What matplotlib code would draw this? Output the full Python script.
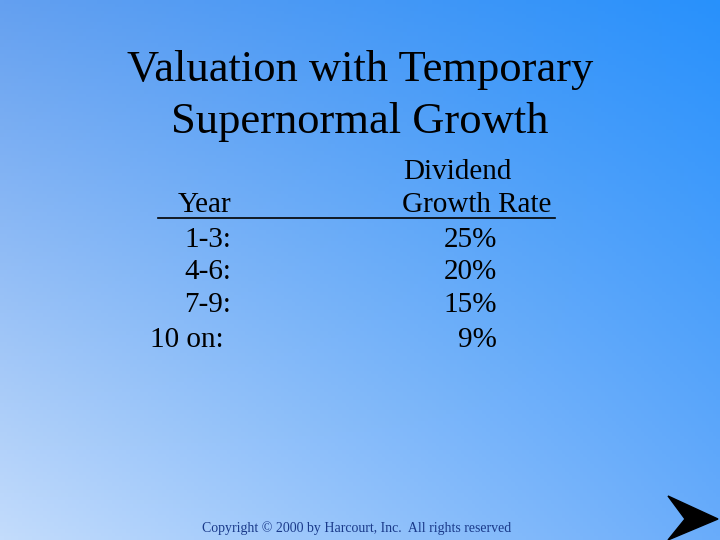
import numpy as np
import matplotlib.pyplot as plt
from matplotlib.patches import Polygon

title_lines = ["Valuation with Temporary", "Supernormal Growth"]
years = ["1-3:", "4-6:", "7-9:", "10 on:"]
rates = ["25%", "20%", "15%", "9%"]
copyright_text = "Copyright \u00a9 2000 by Harcourt, Inc.  All rights reserved"

W, H = 720, 540
fig = plt.figure(figsize=(7.2, 5.4), dpi=100)
ax = fig.add_axes([0, 0, 1, 1])
ax.set_xlim(0, W)
ax.set_ylim(H, 0)
ax.axis('off')

# diagonal gradient background (light bottom-left -> bright blue top-right)
tl = np.array([100, 160, 240]) / 255
tr = np.array([40, 145, 252]) / 255
bl = np.array([195, 220, 252]) / 255
br = np.array([105, 172, 250]) / 255
u = np.linspace(0, 1, 200)[None, :, None]
v = np.linspace(0, 1, 150)[:, None, None]
img = (1 - v) * ((1 - u) * tl + u * tr) + v * ((1 - u) * bl + u * br)
ax.imshow(img, extent=[0, W, H, 0], aspect='auto', zorder=0)

serif = 'Liberation Serif'
ax.text(360, 70, title_lines[0], ha='center', va='center', fontsize=32, family=serif)
ax.text(360, 122, title_lines[1], ha='center', va='center', fontsize=32, family=serif)

fs = 21
ax.text(457, 172, "Dividend", ha='center', va='center', fontsize=fs, family=serif)
ax.text(231, 205, "Year", ha='right', va='center', fontsize=fs, family=serif)
ax.text(477, 205, "Growth Rate", ha='center', va='center', fontsize=fs, family=serif)
ax.plot([158, 555], [218, 218], color='black', lw=1.2)

row_y = [240, 272, 305, 340]
for i, (yr, rt) in enumerate(zip(years, rates)):
    xr = 224 if yr == "10 on:" else 231
    ax.text(xr, row_y[i], yr, ha='right', va='center', fontsize=fs, family=serif)
    ax.text(497, row_y[i], rt, ha='right', va='center', fontsize=fs, family=serif)

ax.text(357, 528, copyright_text, ha='center', va='center', fontsize=10,
        family=serif, color='#1a3a8a')

ax.add_patch(Polygon([[668, 496], [718, 519], [668, 540], [685, 519]],
                     closed=True, color='black'))

fig.savefig('out.png', dpi=100)
